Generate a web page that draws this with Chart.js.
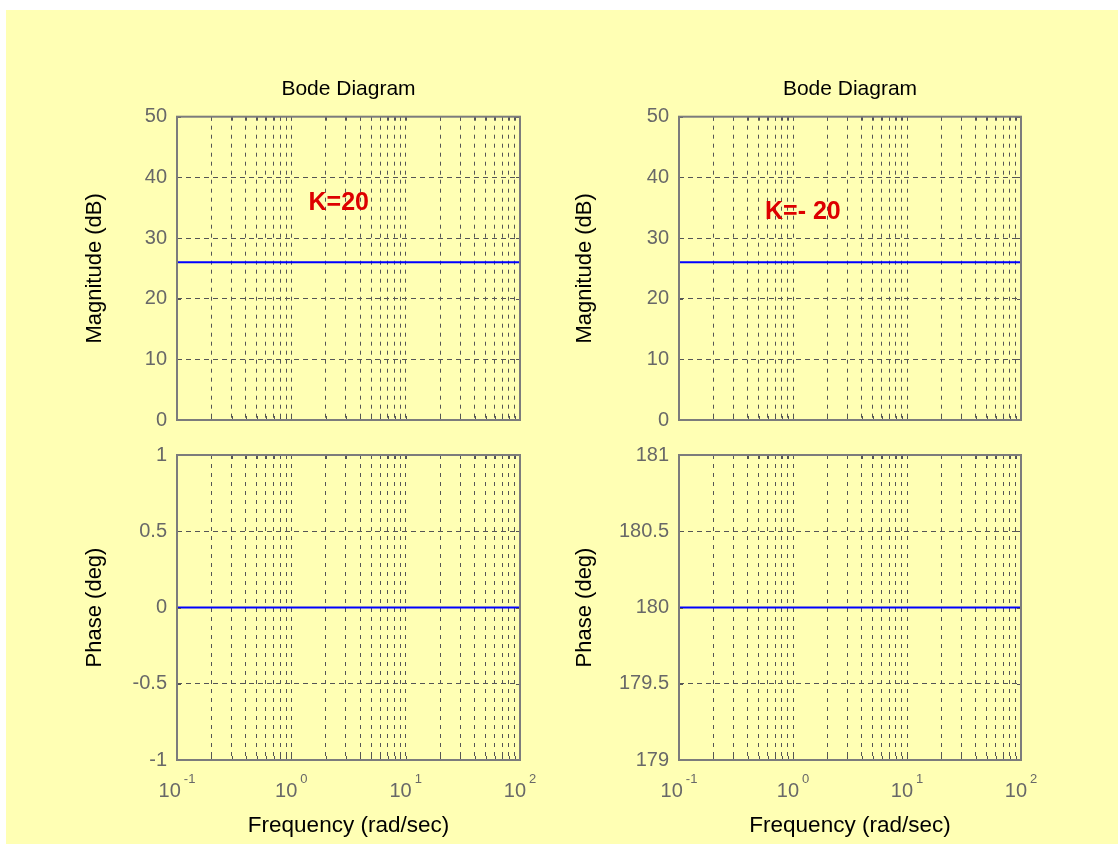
<!DOCTYPE html>
<html>
<head>
<meta charset="utf-8">
<script src="https://cdn.jsdelivr.net/npm/chart.js@4.4.1/dist/chart.umd.min.js"></script>
<style>
  html, body { margin: 0; padding: 0; background: #ffffff; }
  body { width: 1118px; height: 844px; position: relative; overflow: hidden; }
  #bg { position: absolute; left: 6px; top: 10px; right: 0; bottom: 0; background: #ffffb4; }
  canvas { position: absolute; }
</style>
</head>
<body>
<div id="bg"></div>
<canvas id="magLeft" width="560" height="412" style="left:0px;top:30px"></canvas>
<canvas id="phaseLeft" width="560" height="410" style="left:0px;top:430px"></canvas>
<canvas id="magRight" width="560" height="412" style="left:500px;top:30px"></canvas>
<canvas id="phaseRight" width="560" height="410" style="left:500px;top:430px"></canvas>
<script>
// frequency samples (rad/sec) and the responses of the pure gain K
const freqs = [0.1, 1, 10, 100];
const magPos = [26.02, 26.02, 26.02, 26.02];     // K = 20, dB
const phasePos = [0, 0, 0, 0];                   // K = 20, deg
const magNeg = [26.02, 26.02, 26.02, 26.02];     // K = -20, dB
const phaseNeg = [180, 180, 180, 180];           // K = -20, deg

// axis ticks
const decades = [0.1, 1, 10, 100];
const decadeExps = ["-1", "0", "1", "2"];
const decadeSteps = [1, 2, 3, 4, 5, 6, 7, 8, 9];
const magTicks = [0, 10, 20, 30, 40, 50];
const phaseTicksPos = [-1, -0.5, 0, 0.5, 1];
const phaseTicksNeg = [179, 179.5, 180, 180.5, 181];

const FONT = "'Liberation Sans', Arial, sans-serif";
const gridColor = "#555555";
const tickColor = "#686868";
const boxColor = "#7c7c7c";

// every 1..9 x decade inside the plotted range
const freqGrid = [];
decades.forEach((d) => decadeSteps.forEach((s) => {
  const v = +(d * s).toPrecision(3);
  if (v >= 0.1 && v <= 100) freqGrid.push(v);
}));

// MATLAB-like frame: box, inward ticks, 10^n labels and the K note
const matlabBox = {
  id: "matlabBox",
  afterDraw(chart, args, opts) {
    const { ctx, chartArea: a, scales } = chart;
    const x = scales.x;
    const y = scales.y;
    ctx.save();

    ctx.strokeStyle = gridColor;
    ctx.lineWidth = 1;
    ctx.beginPath();
    x.ticks.forEach((t) => {
      const px = Math.round(x.getPixelForValue(t.value)) + 0.5;
      ctx.moveTo(px, a.top);
      ctx.lineTo(px, a.top + 4);
      ctx.moveTo(px, a.bottom);
      ctx.lineTo(px, a.bottom - 4);
    });
    y.ticks.forEach((t) => {
      const py = Math.round(y.getPixelForValue(t.value)) + 0.5;
      ctx.moveTo(a.left, py);
      ctx.lineTo(a.left + 4, py);
      ctx.moveTo(a.right, py);
      ctx.lineTo(a.right - 4, py);
    });
    ctx.stroke();

    ctx.strokeStyle = boxColor;
    ctx.lineWidth = 2;
    ctx.strokeRect(a.left, a.top, a.right - a.left, a.bottom - a.top);

    if (opts.decadeLabels) {
      ctx.fillStyle = tickColor;
      ctx.textBaseline = "alphabetic";
      ctx.textAlign = "left";
      decades.forEach((d, i) => {
        const px = x.getPixelForValue(d);
        ctx.font = "20px " + FONT;
        const wBase = ctx.measureText("10").width + 3;
        ctx.font = "13px " + FONT;
        const wExp = ctx.measureText(decadeExps[i]).width;
        const x0 = px - (wBase + wExp) / 2;
        ctx.font = "20px " + FONT;
        ctx.fillText("10", x0, a.bottom + 37);
        ctx.font = "13px " + FONT;
        ctx.fillText(decadeExps[i], x0 + wBase, a.bottom + 23);
      });
    }

    if (opts.note) {
      ctx.fillStyle = "#dd0000";
      ctx.font = "bold 25px " + FONT;
      ctx.textAlign = "center";
      ctx.textBaseline = "middle";
      ctx.fillText(opts.note.text, x.getPixelForValue(opts.note.x), y.getPixelForValue(opts.note.y));
    }
    ctx.restore();
  },
};

function makePanel(id, cfg) {
  return new Chart(document.getElementById(id), {
    type: "line",
    data: {
      datasets: [
        {
          data: freqs.map((f, i) => ({ x: f, y: cfg.values[i] })),
          borderColor: "#0000ff",
          borderWidth: 2,
          pointRadius: 0,
          fill: false,
        },
      ],
    },
    options: {
      responsive: false,
      animation: false,
      devicePixelRatio: 1,
      layout: { padding: cfg.padding },
      plugins: {
        legend: { display: false },
        tooltip: { enabled: false },
        title: {
          display: !!cfg.title,
          text: cfg.title || "",
          fullSize: false,
          color: "#000000",
          font: { family: FONT, size: 21, weight: "normal", lineHeight: 1.2 },
          padding: { top: 47, bottom: 14.5 },
        },
        matlabBox: { decadeLabels: cfg.decadeLabels, note: cfg.note },
      },
      scales: {
        x: {
          type: "logarithmic",
          min: 0.1,
          max: 100,
          afterBuildTicks: (s) => { s.ticks = freqGrid.map((v) => ({ value: v })); },
          afterFit: (s) => { s.height = cfg.xHeight; },
          ticks: { display: false },
          grid: { drawTicks: false, color: gridColor, lineWidth: 1 },
          border: { display: false, dash: [4, 5] },
          title: {
            display: !!cfg.xTitle,
            text: cfg.xTitle || "",
            color: "#000000",
            font: { family: FONT, size: 22.5, lineHeight: 1.2 },
            padding: { top: 0, bottom: 1 },
          },
        },
        y: {
          min: cfg.yTicks[0],
          max: cfg.yTicks[cfg.yTicks.length - 1],
          afterBuildTicks: (s) => { s.ticks = cfg.yTicks.map((v) => ({ value: v })); },
          afterFit: (s) => { s.width = cfg.yWidth; },
          ticks: {
            color: tickColor,
            font: { family: FONT, size: 20 },
            padding: 10,
            callback: (v) => String(v),
          },
          grid: { drawTicks: false, color: gridColor, lineWidth: 1 },
          border: { display: false, dash: [5, 4] },
          title: {
            display: true,
            text: cfg.yTitle,
            color: "#000000",
            font: { family: FONT, size: 22, lineHeight: 1.2 },
            padding: { top: cfg.yTitlePad, bottom: 0 },
          },
        },
      },
    },
    plugins: [matlabBox],
  });
}

makePanel("magLeft", {
  values: magPos,
  yTicks: magTicks,
  title: "Bode Diagram",
  yTitle: "Magnitude (dB)",
  padding: { left: 77, right: 40, top: 0, bottom: 20 },
  yWidth: 100,
  yTitlePad: 4.8,
  xHeight: 0,
  decadeLabels: false,
  note: { text: "K=20", x: 2.6, y: 35.8 },
});

makePanel("phaseLeft", {
  values: phasePos,
  yTicks: phaseTicksPos,
  yTitle: "Phase (deg)",
  xTitle: "Frequency (rad/sec)",
  padding: { left: 77, right: 40, top: 25, bottom: 0 },
  yWidth: 100,
  yTitlePad: 4.8,
  xHeight: 80,
  decadeLabels: true,
});

makePanel("magRight", {
  values: magNeg,
  yTicks: magTicks,
  title: "Bode Diagram",
  yTitle: "Magnitude (dB)",
  padding: { left: 69, right: 39, top: 0, bottom: 20 },
  yWidth: 110,
  yTitlePad: 2.8,
  xHeight: 0,
  decadeLabels: false,
  note: { text: "K=- 20", x: 1.22, y: 34.3 },
});

makePanel("phaseRight", {
  values: phaseNeg,
  yTicks: phaseTicksNeg,
  yTitle: "Phase (deg)",
  xTitle: "Frequency (rad/sec)",
  padding: { left: 69, right: 39, top: 25, bottom: 0 },
  yWidth: 110,
  yTitlePad: 2.8,
  xHeight: 80,
  decadeLabels: true,
});
</script>
</body>
</html>
